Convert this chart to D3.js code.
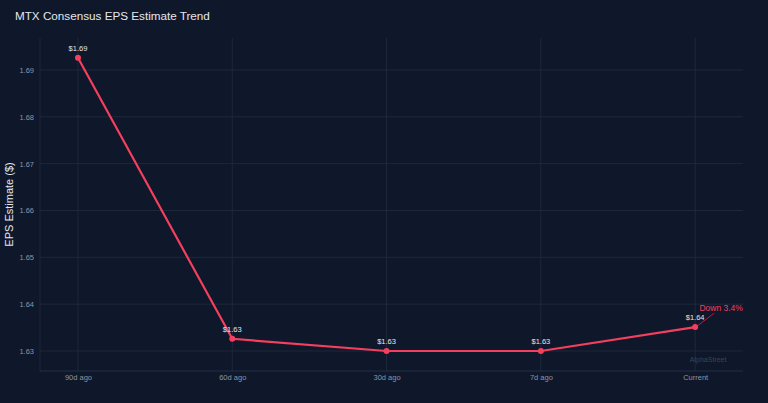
<!DOCTYPE html>
<html>
<head>
<meta charset="utf-8">
<script src="https://cdn.jsdelivr.net/npm/d3@7"></script>
<style>
  html, body { margin: 0; padding: 0; background: #0f172a; }
  svg { display: block; font-family: "Liberation Sans", Arial, sans-serif; }
</style>
</head>
<body>
<div id="chart"></div>
<script>
// Dados do gráfico
const categories = ['90d ago', '60d ago', '30d ago', '7d ago', 'Current'];
const epsValues = [1.6926, 1.6326, 1.6300, 1.6300, 1.6351];
const pointLabels = ['$1.69', '$1.63', '$1.63', '$1.63', '$1.64'];
const yTicks = [1.63, 1.64, 1.65, 1.66, 1.67, 1.68, 1.69];
const annotationText = 'Down 3.4%';

const width = 768, height = 403;
const margin = { top: 38, right: 25, bottom: 32, left: 40 };
const innerW = width - margin.left - margin.right;
const innerH = height - margin.top - margin.bottom;

const svg = d3.select('#chart').append('svg')
  .attr('width', width)
  .attr('height', height);

svg.append('rect').attr('width', width).attr('height', height).attr('fill', '#0f172a');

const chart = svg.append('g')
  .attr('transform', `translate(${margin.left},${margin.top})`);

// Escalas
const xScale = d3.scaleLinear().domain([-0.246, 4.31]).range([0, innerW]);
const yScale = d3.scaleLinear().domain([1.62573, 1.69683]).range([innerH, 0]);

// Grelha
chart.selectAll('.hgrid').data(yTicks).enter().append('line')
  .attr('x1', 0).attr('x2', innerW)
  .attr('y1', d => yScale(d)).attr('y2', d => yScale(d))
  .attr('stroke', '#1e293b').attr('stroke-width', 1);

chart.selectAll('.vgrid').data(categories).enter().append('line')
  .attr('x1', (d, i) => xScale(i)).attr('x2', (d, i) => xScale(i))
  .attr('y1', 0).attr('y2', innerH)
  .attr('stroke', '#1e293b').attr('stroke-width', 1);

// Linhas dos eixos
chart.append('line').attr('x1', 0).attr('x2', 0).attr('y1', 0).attr('y2', innerH)
  .attr('stroke', '#1e293b');
chart.append('line').attr('x1', 0).attr('x2', innerW).attr('y1', innerH).attr('y2', innerH)
  .attr('stroke', '#253047');

// Eixos
const yAxis = d3.axisLeft(yScale).tickValues(yTicks).tickFormat(d3.format('.2f')).tickSize(0).tickPadding(6);
const xAxis = d3.axisBottom(xScale).tickValues(d3.range(categories.length))
  .tickFormat(i => categories[i]).tickSize(0).tickPadding(4);

const yg = chart.append('g').call(yAxis);
const xg = chart.append('g').attr('transform', `translate(0,${innerH})`).call(xAxis);
[yg, xg].forEach(g => {
  g.select('.domain').remove();
  g.selectAll('text').attr('fill', '#8b95a7').style('font-size', '7.5px').attr('font-family', null);
});

// Linha
const line = d3.line()
  .x((d, i) => xScale(i))
  .y(d => yScale(d));

chart.append('path')
  .attr('d', line(epsValues))
  .attr('fill', 'none')
  .attr('stroke', '#f43f5e')
  .attr('stroke-width', 2.2);

chart.selectAll('.pt').data(epsValues).enter().append('circle')
  .attr('cx', (d, i) => xScale(i))
  .attr('cy', d => yScale(d))
  .attr('r', 3)
  .attr('fill', '#f43f5e');

chart.selectAll('.lbl').data(epsValues).enter().append('text')
  .attr('x', (d, i) => xScale(i))
  .attr('y', d => yScale(d) - 7)
  .attr('text-anchor', 'middle')
  .attr('fill', '#e5e7eb')
  .style('font-size', '7.5px')
  .text((d, i) => pointLabels[i]);

// Anotação
const last = epsValues.length - 1;
const ax = xScale(last), ay = yScale(epsValues[last]);
chart.append('line')
  .attr('x1', ax + 2).attr('y1', ay - 1)
  .attr('x2', ax + 19).attr('y2', ay - 14)
  .attr('stroke', '#e11d48').attr('stroke-width', 0.8);
chart.append('text')
  .attr('x', ax + 26).attr('y', ay - 16)
  .attr('text-anchor', 'middle')
  .attr('fill', '#f43f5e')
  .style('font-size', '8.5px')
  .text(annotationText);

// Marca de água
chart.append('text')
  .attr('x', xScale(last) + 13).attr('y', yScale(1.63) + 11)
  .attr('text-anchor', 'middle')
  .attr('fill', '#3b4558')
  .style('font-size', '7px')
  .text('AlphaStreet');

// Títulos
svg.append('text')
  .attr('x', 15).attr('y', 19.5)
  .attr('fill', '#e5e7eb')
  .style('font-size', '11.7px')
  .text('MTX Consensus EPS Estimate Trend');

svg.append('text')
  .attr('transform', `translate(13,${margin.top + innerH / 2}) rotate(-90)`)
  .attr('text-anchor', 'middle')
  .attr('fill', '#e5e7eb')
  .style('font-size', '11px')
  .text('EPS Estimate ($)');
</script>
</body>
</html>
